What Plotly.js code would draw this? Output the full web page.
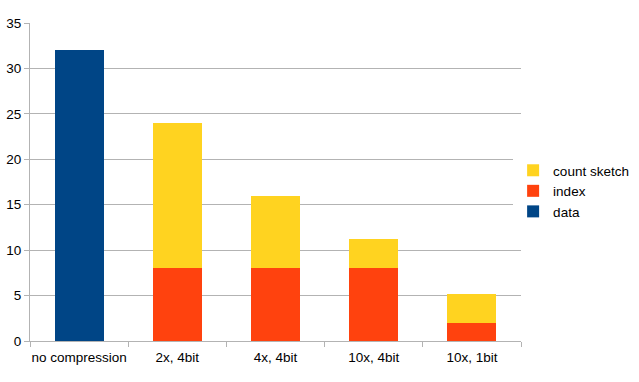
<!DOCTYPE html>
<html>
<head>
<meta charset="utf-8">
<script src="https://cdn.plot.ly/plotly-3.0.1.min.js"></script>
<style>
  body { margin: 0; background: #fff; }
  #chart { width: 639px; height: 382px; }
</style>
</head>
<body>
<div id="chart"></div>
<script>
var categories = ["no compression", "2x, 4bit", "4x, 4bit", "10x, 4bit", "10x, 1bit"];
var dataVals = [32, 0, 0, 0, 0];
var indexVals = [0, 8, 8, 8, 2];
var sketchVals = [0, 16, 8, 3.2, 3.2];

var traceData = {
  x: categories,
  y: dataVals,
  type: 'bar',
  name: 'data',
  marker: { color: '#004586' }
};

var traceIndex = {
  x: categories,
  y: indexVals,
  type: 'bar',
  name: 'index',
  marker: { color: '#ff420e' }
};

var traceSketch = {
  x: categories,
  y: sketchVals,
  type: 'bar',
  name: 'count sketch',
  marker: { color: '#ffd320' }
};

var layout = {
  width: 639,
  height: 382,
  barmode: 'stack',
  bargap: 0.5,
  margin: { l: 30, r: 118, t: 23, b: 41, autoexpand: false },
  paper_bgcolor: '#fff',
  plot_bgcolor: '#fff',
  font: { family: 'Liberation Sans, Arial, sans-serif', size: 13, color: '#000' },
  showlegend: true,
  legend: {
    xref: 'container',
    yref: 'container',
    x: 0.803, y: 0.50, xanchor: 'left', yanchor: 'middle',
    traceorder: 'reversed',
    font: { size: 13.5 },
    itemwidth: 30,
    tracegroupgap: 0
  },
  xaxis: {
    showline: true,
    linecolor: '#b3b3b3',
    ticks: 'outside',
    tickson: 'boundaries',
    ticklen: 5,
    tickcolor: '#b3b3b3',
    tickangle: 0,
    ticklabelstandoff: 4,
    showgrid: false,
    tickfont: { size: 13.5 }
  },
  yaxis: {
    range: [0, 35],
    dtick: 5,
    showline: true,
    linecolor: '#b3b3b3',
    ticks: 'outside',
    ticklen: 5,
    tickcolor: '#b3b3b3',
    gridcolor: '#b3b3b3',
    zeroline: false,
    tickfont: { size: 13.5 }
  }
};

Plotly.newPlot('chart', [traceData, traceIndex, traceSketch], layout, { displayModeBar: false });
</script>
</body>
</html>
